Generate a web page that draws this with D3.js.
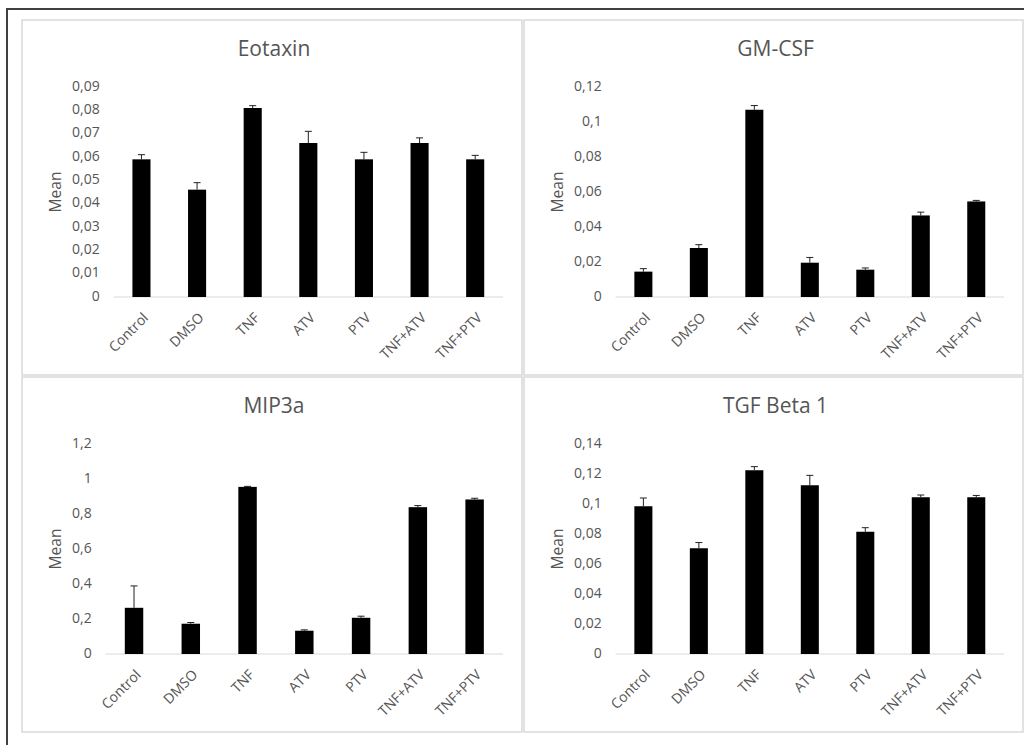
<!DOCTYPE html>
<html>
<head>
<meta charset="utf-8">
<script src="https://cdn.jsdelivr.net/npm/d3@7"></script>
<style>
  body { margin: 0; background: #fff; }
  svg { display: block; }
  text { font-family: "Open Sans", sans-serif; fill: #555; }
</style>
</head>
<body>
<svg id="chart" width="1024" height="745"></svg>
<script>
"use strict";

// data
const categories = ["Control", "DMSO", "TNF", "ATV", "PTV", "TNF+ATV", "TNF+PTV"];

const titles = ["Eotaxin", "GM-CSF", "MIP3a", "TGF Beta 1"];

const eotaxin_mean = [0.059, 0.046, 0.081, 0.066, 0.059, 0.066, 0.059];
const eotaxin_err  = [0.002, 0.003, 0.001, 0.005, 0.003, 0.0022, 0.0017];
const eotaxin_ticks = [0, 0.01, 0.02, 0.03, 0.04, 0.05, 0.06, 0.07, 0.08, 0.09];

const gmcsf_mean = [0.0145, 0.028, 0.107, 0.0196, 0.0156, 0.0466, 0.0546];
const gmcsf_err  = [0.0017, 0.0019, 0.0024, 0.003, 0.001, 0.0019, 0.0006];
const gmcsf_ticks = [0, 0.02, 0.04, 0.06, 0.08, 0.1, 0.12];

const mip3a_mean = [0.264, 0.173, 0.955, 0.133, 0.207, 0.839, 0.883];
const mip3a_err  = [0.125, 0.007, 0.003, 0.005, 0.009, 0.009, 0.007];
const mip3a_ticks = [0, 0.2, 0.4, 0.6, 0.8, 1, 1.2];

const tgfb1_mean = [0.0985, 0.0705, 0.1225, 0.1125, 0.0815, 0.1045, 0.1045];
const tgfb1_err  = [0.0055, 0.0038, 0.0024, 0.0066, 0.0027, 0.0015, 0.0012];
const tgfb1_ticks = [0, 0.02, 0.04, 0.06, 0.08, 0.1, 0.12, 0.14];

// panels: x, y, width, height
const panels = [
  { x: 22,  y: 20,  w: 500, h: 355, title: titles[0], mean: eotaxin_mean, err: eotaxin_err, ticks: eotaxin_ticks },
  { x: 524, y: 20,  w: 499, h: 355, title: titles[1], mean: gmcsf_mean,   err: gmcsf_err,   ticks: gmcsf_ticks },
  { x: 22,  y: 377, w: 500, h: 355, title: titles[2], mean: mip3a_mean,   err: mip3a_err,   ticks: mip3a_ticks },
  { x: 524, y: 377, w: 499, h: 355, title: titles[3], mean: tgfb1_mean,   err: tgfb1_err,   ticks: tgfb1_ticks }
];

const loc = d3.formatLocale({ decimal: ",", thousands: ".", grouping: [3], currency: ["", ""] });
const fmt = loc.format("~g");

const svg = d3.select("#chart");

// outer dark frame (runs past the window edge)
svg.append("rect")
  .attr("x", 7).attr("y", 9)
  .attr("width", 1040).attr("height", 760)
  .attr("fill", "none")
  .attr("stroke", "#404040")
  .attr("stroke-width", 2);

panels.forEach(p => {
  const g = svg.append("g").attr("transform", `translate(${p.x},${p.y})`);

  g.append("rect")
    .attr("x", 0).attr("y", 0)
    .attr("width", p.w).attr("height", p.h)
    .attr("fill", "#fff")
    .attr("stroke", "#d9d9d9")
    .attr("stroke-width", 1.5);

  // title
  g.append("text")
    .text(p.title)
    .attr("x", p.w / 2 + 2)
    .attr("y", 30)
    .attr("text-anchor", "middle")
    .attr("dominant-baseline", "middle")
    .attr("font-size", 21);

  const y_top = 67, y_zero = 277;
  const y = d3.scaleLinear()
    .domain([0, d3.max(p.ticks)])
    .range([y_zero, y_top]);

  // tick labels, left edge at ~50, measured to place the plot area
  const labels_left = 50;
  const tl = g.append("g");
  tl.selectAll("text")
    .data(p.ticks)
    .join("text")
    .text(d => fmt(d))
    .attr("y", d => y(d))
    .attr("dominant-baseline", "middle")
    .attr("text-anchor", "end")
    .attr("font-size", 14);
  let maxw = 0;
  tl.selectAll("text").each(function () {
    maxw = Math.max(maxw, this.getComputedTextLength());
  });
  const lab_right = labels_left + maxw;
  tl.selectAll("text").attr("x", lab_right);

  const x0 = lab_right + 14, x1 = p.w - 19;
  const x = d3.scaleBand()
    .domain(categories)
    .range([x0, x1])
    .paddingInner(0.675)
    .paddingOuter(0.3375);

  // y axis title
  g.append("text")
    .text("Mean")
    .attr("transform", `translate(35,${(y_top + y_zero) / 2}) rotate(-90)`)
    .attr("text-anchor", "middle")
    .attr("dominant-baseline", "middle")
    .attr("font-size", 15.5);

  // base line
  g.append("line")
    .attr("x1", x0).attr("x2", x1)
    .attr("y1", y_zero).attr("y2", y_zero)
    .attr("stroke", "#d9d9d9")
    .attr("stroke-width", 1);

  const rows = categories.map((c, i) => ({ c, v: p.mean[i], e: p.err[i] }));

  // error bars (upper only)
  const eb = g.append("g").attr("stroke", "#222").attr("stroke-width", 1);
  eb.selectAll("line.v")
    .data(rows)
    .join("line")
    .attr("class", "v")
    .attr("x1", d => x(d.c) + x.bandwidth() / 2)
    .attr("x2", d => x(d.c) + x.bandwidth() / 2)
    .attr("y1", d => y(d.v))
    .attr("y2", d => y(d.v + d.e));
  eb.selectAll("line.cap")
    .data(rows)
    .join("line")
    .attr("class", "cap")
    .attr("x1", d => x(d.c) + x.bandwidth() / 2 - 3.5)
    .attr("x2", d => x(d.c) + x.bandwidth() / 2 + 3.5)
    .attr("y1", d => y(d.v + d.e))
    .attr("y2", d => y(d.v + d.e));

  // bars
  g.selectAll("rect.bar")
    .data(rows)
    .join("rect")
    .attr("class", "bar")
    .attr("x", d => x(d.c))
    .attr("y", d => y(d.v))
    .attr("width", x.bandwidth())
    .attr("height", d => y_zero - y(d.v))
    .attr("fill", "#000");

  // category labels
  g.selectAll("text.cat")
    .data(categories)
    .join("text")
    .attr("class", "cat")
    .text(d => d)
    .attr("transform", d => `translate(${x(d) + x.bandwidth() / 2 + 5},${y_zero + 19}) rotate(-45)`)
    .attr("text-anchor", "end")
    .attr("dominant-baseline", "middle")
    .attr("font-size", 14);
});
</script>
</body>
</html>
